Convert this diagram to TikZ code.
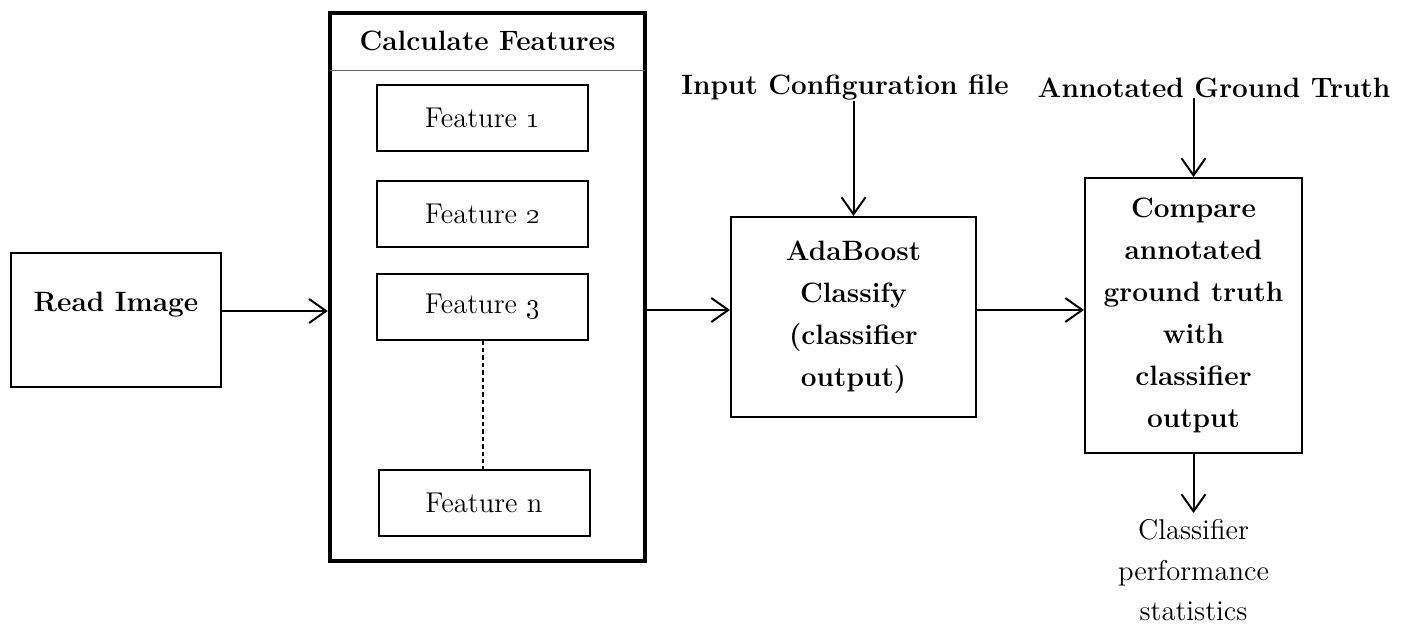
\documentclass[tikz,border=0pt]{standalone}
\usetikzlibrary{arrows.meta, positioning}

\begin{document}
\begin{tikzpicture}[x=0.5pt, y=-0.5pt,
        plain/.style = {
            font = \fontsize{14.3}{21}\selectfont,
            align = center,
            inner sep = 0pt
        },
        heading/.style = {
            plain,
            font = \fontsize{14}{21}\selectfont\bfseries
        },
        block/.style = {
            draw,
            line width = 1pt,
            inner sep = 0pt
        },
        feature/.style = {
            block,
            plain,
            minimum width = 105.5pt,
            minimum height = 33pt
        },
        flow/.style = {
            -{Straight Barb[length=8.5pt, width=12pt]},
            line width = 1pt
        }
    ]

    \useasboundingbox (0,0) rectangle (1402,630);

    \node (read) [block, minimum width=105pt, minimum height=67pt,
        label={[heading, yshift=7.5pt]center:Read Image}] at (116,320) {};

    % feature extraction group
    \node (calc) [block, line width=2.2pt, minimum width=157.5pt, minimum height=274pt] at (487.5,287) {};
    \node (calchead) [heading, minimum width=157.5pt, minimum height=29.5pt, anchor=north] at (calc.north) {Calculate Features};
    \draw[black!60, line width=0.8pt] (calchead.south west) -- (calchead.south east);

    \node (feat1) [feature, below=6.5pt of calchead, xshift=-2.5pt] {Feature \oldstylenums{1}};
    \node (feat2) [feature, below=14pt of feat1] {Feature \oldstylenums{2}};
    \node (feat3) [feature, below=12.5pt of feat2] {Feature \oldstylenums{3}};
    \node (featn) [feature, below=64pt of feat3, xshift=0.75pt] {Feature n};

    \draw[dash pattern=on 2.2pt off 1.5pt, line width=1pt] (feat3.south) -- (feat3.south |- featn.north);

    \node (ada) [block, heading, minimum width=122.5pt, minimum height=100pt] at (853.5,317) {AdaBoost\\Classify\\(classifier\\output)};
    \node (cmp) [block, heading, minimum width=108.5pt, minimum height=137.5pt] at (1193.5,315.5) {Compare\\annotated\\ground truth\\with\\classifier\\output};

    \node (cfg) [heading] at (845,88) {Input Configuration file};
    \node (truth) [heading] at (1214,88) {Annotated Ground Truth};
    \node (stats) [plain, anchor=north, font=\fontsize{14.3}{20.3}\selectfont] at (1193.5,519) {Classifier\\performance\\statistics};

    % connectors
    \coordinate (readout) at ([yshift=4.5pt]read.east);
    \draw[flow] (readout) -- (readout -| calc.west);
    \coordinate (adain) at ([yshift=3.5pt]ada.west);
    \draw[flow] (adain -| calc.east) -- (adain);
    \coordinate (cmpin) at ([yshift=2.75pt]cmp.west);
    \draw[flow] (cmpin -| ada.east) -- (cmpin);
    \draw[flow] (cfg.south -| ada.north) -- (ada.north);
    \draw[flow] (truth.south -| cmp.north) -- (cmp.north);
    \draw[flow] (cmp.south) -- ([yshift=3pt]stats.north);

\end{tikzpicture}
\end{document}
